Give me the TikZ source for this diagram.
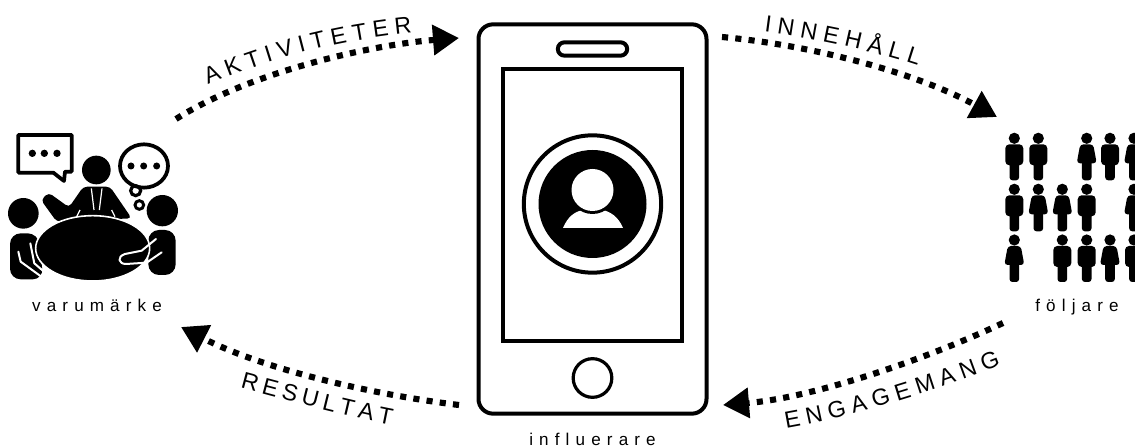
\documentclass[tikz,border=0pt]{standalone}
\usepackage{fontspec}
\setmainfont{Liberation Sans}
\usetikzlibrary{arrows.meta,decorations.text}
\tikzset{
  flow/.style={line width=4.6pt,dash pattern=on 4.6pt off 5.4pt,-{Triangle[length=19.5pt,width=22pt]}},
  lbl/.style={anchor=base,inner sep=0pt,font=\fontsize{12.8}{14}\selectfont\addfontfeatures{LetterSpace=36}},
  curved/.style={decorate,decoration={text along path,text align=fit to path,text={|\fontsize{17.5}{19}\selectfont|#1}}},
  man/.pic={
    \fill (0,0) circle (5.6);
    \fill[rounded corners=3pt] (-9,6) rectangle (9,27);
    \fill[rounded corners=2.2pt] (-4.8,20) rectangle (4.8,42);
  },
  woman/.pic={
    \fill (0,0) circle (5.6);
    \fill[rounded corners=2.5pt] (-6.5,6) -- (6.5,6) -- (10,25) -- (-10,25) -- cycle;
    \fill[rounded corners=2.2pt] (-4.8,20) rectangle (4.8,42);
  },
}
\begin{document}
\begin{tikzpicture}[x=0.75pt,y=-0.75pt]
\useasboundingbox (0,0) rectangle (1135,448);
\clip (0,0) rectangle (1135,448);
\fill[white] (0,0) rectangle (1135,448);

% phone
\node[draw,line width=3pt,rounded corners=11pt,minimum width=171pt,minimum height=292pt,inner sep=0pt] (phone) at (592.5,219) {};
\node[draw,line width=3pt,minimum width=134pt,minimum height=204pt,inner sep=0pt] (screen) at (592.5,205) {};
\node[draw,line width=3pt,rounded corners=5pt,minimum width=52pt,minimum height=10pt,inner sep=0pt] (speaker) at (592.5,49) {};
\node[draw,circle,line width=2.4pt,minimum size=29pt,inner sep=0pt] (home) at (592.5,378) {};
\node[draw,circle,line width=3pt,minimum size=103pt,inner sep=0pt] (ring) at (592.5,204) {};
\node[fill=black,circle,minimum size=81pt,inner sep=0pt] (disc) at (592.5,204) {};
\fill[white] (563,228) .. controls (568,216) and (575,212) .. (582,210) -- (603,210) .. controls (610,212) and (618,216) .. (623,228) -- cycle;
\fill[black] (592.5,190) circle (24);
\fill[white] (592.5,190) circle (21);

% arrow end points
\coordinate (a1) at (176,119); \coordinate (a2) at (459,38);
\coordinate (b1) at (722,37);  \coordinate (b2) at (997,117);
\coordinate (c1) at (1003,323); \coordinate (c2) at (723,405);
\coordinate (d1) at (459,405); \coordinate (d2) at (181,327);

\draw[flow] (a1) .. controls (250,72) and (370,45) .. (a2);
\draw[flow] (b1) .. controls (810,45) and (915,72) .. (b2);
\draw[flow] (c1) .. controls (920,362) and (810,398) .. (c2);
\draw[flow] (d1) .. controls (375,395) and (265,370) .. (d2);

% curved labels
\path[curved=AKTIVITETER] (208,85) .. controls (270,58) and (340,40) .. (412,33);
\path[curved=INNEHÅLL] (764,32) .. controls (810,38) and (870,50) .. (918,66);
\path[curved=ENGAGEMANG] (786,428) .. controls (855,416) and (930,393) .. (1001,365);
\path[curved=RESULTAT] (240,388) .. controls (285,400) and (340,415) .. (391,425);

% labels
\node[lbl] (varumarke) at (97,312) {varumärke};
\node[lbl] (foljare) at (1077,312) {följare};
\node[lbl] (influerare) at (592.5,446) {influerare};

% followers
\foreach \px/\py in {1014.3/138.3,1038.3/138.3,1110/138.3,1014.3/189.3,1086.7/189.3,1062.3/240,1086.7/240,1134/240}
  \pic at (\px,\py) {man};
\foreach \px/\py in {1086.7/138.3,1134/138.3,1038.3/189.3,1062.3/189.3,1134/189.3,1014.3/240,1110/240}
  \pic at (\px,\py) {woman};

% meeting icon, in units of a third of a pixel
\begin{scope}[shift={(0,120)},x=0.25pt,y=-0.25pt]
  % speech box
  \draw[line width=2.8pt,line join=round] (55,45) -- (215,45) -- (215,155) -- (195,155) -- (192,183) -- (160,158) -- (55,158) -- cycle;
  \foreach \dx in {97,133,171} \fill (\dx,100) circle (11);
  % thought bubble
  \draw[line width=2.8pt] (432,138) ellipse (72 and 65);
  \foreach \dx in {393,431,470} \fill (\dx,138) circle (10.5);
  \draw[line width=2.4pt] (407,212) circle (15);
  \draw[line width=2.2pt] (418,255) circle (13);
  % centre person
  \fill (289,150) circle (43);
  \fill[rounded corners=3pt] (250,200) -- (330,200) -- (395,295) -- (170,305) -- (123,240) -- (146,218) -- (207,262) -- cycle;
  \draw[white,line width=0.9pt] (274,205) -- (282,270);
  \draw[white,line width=0.9pt] (306,205) -- (298,270);
  \draw[white,line width=0.9pt] (230,290) -- (240,270);
  \draw[white,line width=0.9pt] (345,290) -- (335,270);
  % left person
  \fill (70,280) circle (46);
  \fill[rounded corners=8pt] (30,478) -- (30,340) -- (115,340) -- (130,478) -- cycle;
  % right person
  \fill (487,272) circle (47);
  \fill[rounded corners=8pt] (445,465) -- (445,330) -- (527,330) -- (527,465) -- cycle;
  % table
  \fill[draw=white,line width=1.2pt] (278,385) ellipse (171 and 98);
  % arms
  \draw[white,line width=1.5pt,line cap=round,line join=round] (55,395) -- (62,425) -- (135,478);
  \draw[white,line width=1.5pt,line cap=round,line join=round] (91,370) -- (103,430) -- (140,462);
  \draw[white,line width=1.5pt,line cap=round,line join=round] (468,357) -- (425,392) -- (375,402) .. controls (350,410) and (355,432) .. (378,432) -- (440,428) -- (485,397);
\end{scope}
\end{tikzpicture}
\end{document}
